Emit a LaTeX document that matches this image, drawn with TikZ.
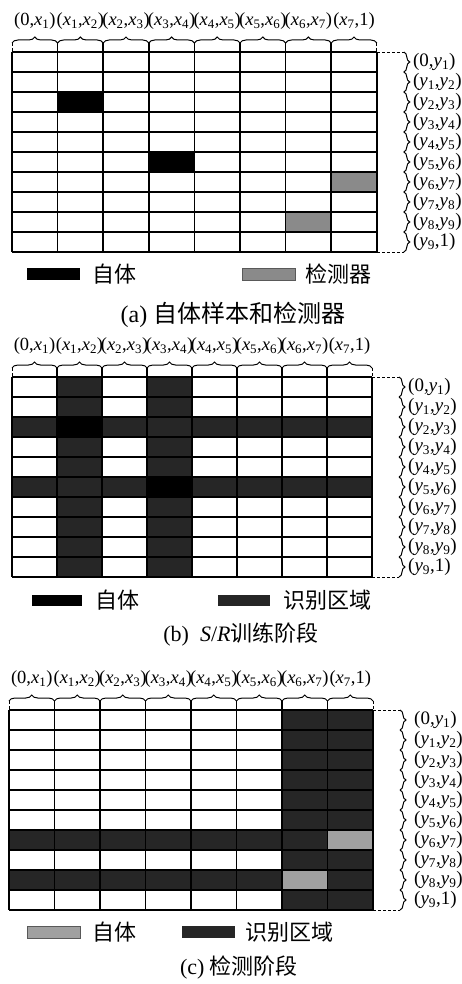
\documentclass[tikz,border=0pt]{standalone}
\usepackage{fontspec}
\setmainfont{Liberation Serif}
\newfontfamily\cjk{Noto Sans CJK SC}
\usetikzlibrary{decorations.pathreplacing}
\definecolor{detgray}{HTML}{8A8A8A}
\definecolor{selfgray}{HTML}{A0A0A0}
\definecolor{region}{HTML}{262626}
\newcommand\xv[1]{\textit{x}\textsubscript{#1}}
\newcommand\yv[1]{\textit{y}\textsubscript{#1}}
\def\toplist{1/{(0,\xv1)},2/{(\xv1,\xv2)},3/{(\xv2,\xv3)},4/{(\xv3,\xv4)},5/{(\xv4,\xv5)},6/{(\xv5,\xv6)},7/{(\xv6,\xv7)},8/{(\xv7,1)}}
\def\rightlist{1/{(0,\yv1)},2/{(\yv1,\yv2)},3/{(\yv2,\yv3)},4/{(\yv3,\yv4)},5/{(\yv4,\yv5)},6/{(\yv5,\yv6)},7/{(\yv6,\yv7)},8/{(\yv7,\yv8)},9/{(\yv8,\yv9)},10/{(\yv9,1)}}
% #1 color, #2 L, #3 T, #4 W, #5 col, #6 row
\newcommand\cellfill[6]{\fill[#1] ({#2+(#5-1)*#4},{#3+(#6-1)*20}) rectangle ++(#4,20);}
% #1 name, #2 L, #3 T, #4 W, #5 label offset
\newcommand\drawpanel[5]{%
  \foreach \k in {0,...,10}
    \draw[hline] ({#2},{#3+\k*20}) -- ({#2+8*#4},{#3+\k*20});
  \foreach \k in {0,...,8}
    \draw[vline] ({#2+\k*#4},{#3}) -- ({#2+\k*#4},{#3+200});
  \foreach \k in {1,...,7}
    \draw[vline] ({#2+\k*#4},{#3-9}) -- ({#2+\k*#4},{#3});
  \draw[ext] ({#2},{#3-9}) -- ({#2},{#3});
  \draw[ext] ({#2+8*#4},{#3-9}) -- ({#2+8*#4},{#3});
  \draw[ext] ({#2+8*#4},{#3}) -- ({#2+8*#4+27},{#3});
  \draw[ext] ({#2+8*#4},{#3+200}) -- ({#2+8*#4+27},{#3+200});
  \foreach \c/\t in \toplist {
    \draw[brc] ({#2+(\c-1)*#4},{#3-9}) -- ({#2+\c*#4},{#3-9});
    \node[toplab] (#1-t\c) at ({#2+(\c-0.5)*#4},{#3-31}) {\t};
  }
  \foreach \r/\t in \rightlist {
    \draw[brc] ({#2+8*#4+27},{#3+(\r-1)*20}) -- ({#2+8*#4+27},{#3+\r*20});
    \node[rightlab] (#1-r\r) at ({#2+8*#4+#5},{#3+(\r-0.5)*20}) {\t};
  }
}
\begin{document}
\begin{tikzpicture}[x=1pt,y=-1pt,
  hline/.style={line width=1.2pt, black},
  vline/.style={line width=1.6pt, black},
  ext/.style={line width=0.9pt, black, dash pattern=on 3pt off 2pt},
  brc/.style={decorate, decoration={brace, amplitude=6pt}, line width=1pt},
  toplab/.style={font=\fontsize{18.5}{20}\selectfont, inner sep=0pt},
  rightlab/.style={font=\fontsize{19}{21}\selectfont, inner sep=0pt, anchor=west},
  legbox/.style={minimum width=53pt, minimum height=12pt, inner sep=0pt},
  legtext/.style={font=\cjk\fontsize{22}{24}\selectfont, inner sep=0pt, anchor=west},
  captext/.style={font=\fontsize{22}{24}\selectfont, inner sep=0pt}]
\useasboundingbox[fill=white] (0,0) rectangle (462,984);

% ---------- panel (a)
\cellfill{black}{12}{52}{45.6}{2}{3}
\cellfill{black}{12}{52}{45.6}{4}{6}
\cellfill{detgray}{12}{52}{45.6}{8}{7}
\cellfill{detgray}{12}{52}{45.6}{7}{9}
\drawpanel{a}{12}{52}{45.6}{36}
\node[legbox, fill=black] (a-lb1) at (53,274) {};
\node[legtext] (a-lt1) at (92,274) {自体};
\node[legbox, fill=detgray, draw=gray!70!black, line width=0.8pt] (a-lb2) at (268.5,274) {};
\node[legtext] (a-lt2) at (305,274) {检测器};
\node[captext, font=\fontsize{24}{26}\selectfont] (a-cap) at (233,315) {(a) {\cjk 自体样本和检测器}};

% ---------- panel (b)
\fill[region] (57,377) rectangle ++(45,200);
\fill[region] (147,377) rectangle ++(45,200);
\fill[region] (12,417) rectangle ++(360,20);
\fill[region] (12,477) rectangle ++(360,20);
\cellfill{black}{12}{377}{45}{2}{3}
\cellfill{black}{12}{377}{45}{4}{6}
\drawpanel{b}{12}{377}{45}{36}
\node[legbox, fill=black, minimum width=50pt, minimum height=11pt] (b-lb1) at (57,600) {};
\node[legtext] (b-lt1) at (95,600) {自体};
\node[legbox, fill=region, minimum width=52pt, minimum height=11pt] (b-lb2) at (244,600) {};
\node[legtext] (b-lt2) at (283,600) {识别区域};
\node[captext] (b-cap) at (241,635) {(b)\ \ \textit{S}/\textit{R}{\cjk 训练阶段}};

% ---------- panel (c)
\fill[region] (282,710) rectangle ++(91,200);
\fill[region] (9,830) rectangle ++(364,20);
\fill[region] (9,870) rectangle ++(364,20);
\cellfill{selfgray}{9}{710}{45.5}{8}{7}
\cellfill{selfgray}{9}{710}{45.5}{7}{9}
\drawpanel{c}{9}{710}{45.5}{41}
\node[legbox, fill=selfgray, draw=gray!70!black, line width=0.8pt] (c-lb1) at (53.5,932) {};
\node[legtext] (c-lt1) at (92,932) {自体};
\node[legbox, fill=region] (c-lb2) at (208.5,932) {};
\node[legtext] (c-lt2) at (245,932) {识别区域};
\node[captext] (c-cap) at (239,968) {(c) {\cjk 检测阶段}};
\end{tikzpicture}
\end{document}
